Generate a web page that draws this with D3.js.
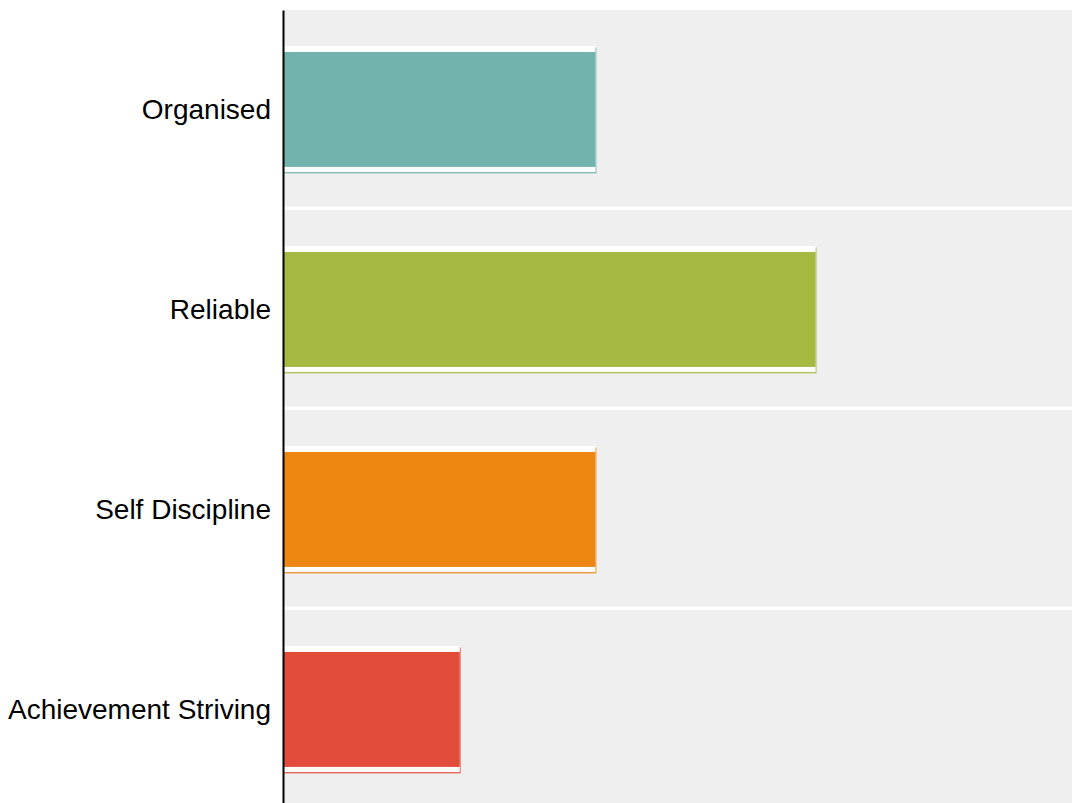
<!DOCTYPE html>
<html>
<head>
<meta charset="utf-8">
<script src="https://cdn.jsdelivr.net/npm/d3@7"></script>
<style>
  body { margin: 0; background: #fff; }
  svg { display: block; font-family: Arial, "Liberation Sans", sans-serif; }
</style>
</head>
<body>
<div id="chart"></div>
<script>
// chart data
var categories = ["Organised", "Reliable", "Self Discipline", "Achievement Striving"];
var scores = [39.6, 67.5, 39.6, 22.4];
var colors = ["#72b4ad", "#a5b940", "#ec8713", "#e24d3b"];

var width = 1074, height = 803;
var marginLeft = 283, plotRight = 1072, plotTop = 10;

var svg = d3.select("#chart").append("svg")
    .attr("width", width)
    .attr("height", height);

// bands run a bit past the bottom edge, like the original
var y = d3.scaleBand()
    .domain(categories)
    .range([plotTop, plotTop + 796.5])
    .paddingInner(0.0175);

var x = d3.scaleLinear()
    .domain([0, 100])
    .range([marginLeft, plotRight]);

var bw = y.bandwidth();

// grey background bands
svg.selectAll("rect.bg")
    .data(categories)
    .enter().append("rect")
    .attr("class", "bg")
    .attr("x", x(0))
    .attr("y", function(d) { return y(d); })
    .attr("width", x(100) - x(0))
    .attr("height", bw)
    .attr("fill", "#efefef");

var rows = categories.map(function(c, i) {
    return { label: c, value: scores[i], color: colors[i] };
});

var g = svg.selectAll("g.bar")
    .data(rows)
    .enter().append("g")
    .attr("class", "bar")
    .attr("transform", function(d) { return "translate(0," + y(d.label) + ")"; });

var outerTop = bw * 0.183, outerH = bw * 0.641;

// thin shadow under the white frame
g.append("rect")
    .attr("x", x(0))
    .attr("y", outerTop + 1.5)
    .attr("width", function(d) { return x(d.value) - x(0) + 1; })
    .attr("height", outerH)
    .attr("fill", function(d) { return d.color; })
    .attr("opacity", 0.8);

// white frame
g.append("rect")
    .attr("x", x(0))
    .attr("y", outerTop)
    .attr("width", function(d) { return x(d.value) - x(0); })
    .attr("height", outerH)
    .attr("fill", "#fff");

// the coloured bar itself
g.append("rect")
    .attr("x", x(0))
    .attr("y", outerTop + 6)
    .attr("width", function(d) { return x(d.value) - x(0); })
    .attr("height", outerH - 11)
    .attr("fill", function(d) { return d.color; });

// y axis with category labels
var axis = svg.append("g")
    .attr("transform", "translate(" + marginLeft + ",2)")
    .call(d3.axisLeft(y).tickSize(0).tickPadding(12));

axis.select(".domain")
    .attr("transform", "translate(0,-2)")
    .attr("stroke", "#000")
    .attr("stroke-width", 2);

axis.selectAll("text")
    .attr("font-size", 28)
    .attr("font-family", "Arial, 'Liberation Sans', sans-serif")
    .attr("fill", "#000");
</script>
</body>
</html>
